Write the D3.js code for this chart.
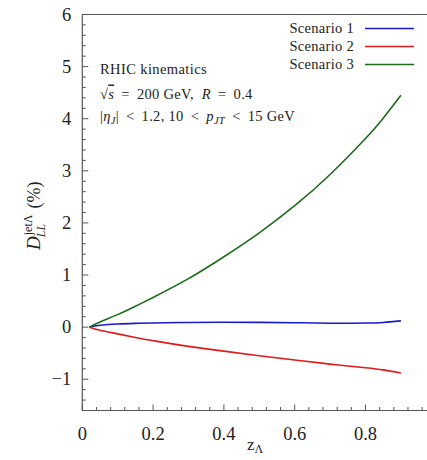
<!DOCTYPE html>
<html><head><meta charset="utf-8">
<script src="https://cdn.jsdelivr.net/npm/d3@7"></script>
<style>body{margin:0;background:#fff;} text{white-space:pre;}</style>
</head><body>
<svg id="c" width="427" height="460" font-family="'Liberation Serif', 'Times New Roman', 'DejaVu Serif', serif"></svg>
<script>
const xs = [0.02, 0.05, 0.1, 0.15, 0.2, 0.3, 0.4, 0.5, 0.6, 0.7, 0.8, 0.85, 0.9];
const scenario1 = [0, 0.035, 0.06, 0.072, 0.08, 0.09, 0.095, 0.092, 0.085, 0.075, 0.078, 0.09, 0.12];
const scenario2 = [0, -0.06, -0.13, -0.2, -0.26, -0.37, -0.46, -0.55, -0.63, -0.71, -0.78, -0.82, -0.88];
const scenario3 = [0, 0.1, 0.24, 0.4, 0.57, 0.93, 1.35, 1.81, 2.33, 2.93, 3.62, 4.01, 4.45];
const seriesNames = ["Scenario 1", "Scenario 2", "Scenario 3"];
const colors = ["#1a1acc", "#e01a1a", "#1a6b1a"];
const xTicks = [0, 0.2, 0.4, 0.6, 0.8];
const yTicks = [-1, 0, 1, 2, 3, 4, 5, 6];

const svg = d3.select("#c");
const x = d3.scaleLinear().domain([0, 1]).range([82.3, 436.3]);
const y = d3.scaleLinear().domain([-1.6, 6]).range([410.5, 14.5]);
const axisColor = "#555";
const txt = "#222";

svg.append("line").attr("x1", x(0)).attr("x2", x(1)).attr("y1", y(6)).attr("y2", y(6)).attr("stroke", axisColor).attr("stroke-width", 1.2);
svg.append("line").attr("x1", x(0)).attr("x2", x(0)).attr("y1", y(6)).attr("y2", y(-1.6)).attr("stroke", axisColor).attr("stroke-width", 1.2);
svg.append("line").attr("x1", x(0)).attr("x2", x(1)).attr("y1", y(-1.6)).attr("y2", y(-1.6)).attr("stroke", axisColor).attr("stroke-width", 1.2);

const yMinor = d3.range(-16, 61, 2).map(d => d / 10);
svg.append("g").selectAll("line").data(yMinor).join("line")
  .attr("x1", x(0)).attr("x2", d => x(0) + (Math.abs(d - Math.round(d)) < 1e-6 ? 6 : 3.5))
  .attr("y1", d => y(d)).attr("y2", d => y(d)).attr("stroke", axisColor).attr("stroke-width", 1);
svg.append("g").selectAll("text").data(yTicks).join("text")
  .attr("x", x(0) - 11).attr("y", d => y(d) + 6).attr("text-anchor", "end").attr("fill", txt)
  .attr("font-size", 18.5).text(d => d < 0 ? "\u2212" + Math.abs(d) : d);

const xMinor = d3.range(0, 26).map(d => d * 0.04);
svg.append("g").selectAll("line").data(xMinor).join("line")
  .attr("x1", d => x(d)).attr("x2", d => x(d))
  .attr("y1", y(-1.6)).attr("y2", (d, i) => y(-1.6) - (i % 5 === 0 ? 6 : 3.5))
  .attr("stroke", axisColor).attr("stroke-width", 1);
svg.append("g").selectAll("text").data(xTicks).join("text")
  .attr("x", d => x(d)).attr("y", 440).attr("text-anchor", "middle").attr("fill", txt)
  .attr("font-size", 18.5).text(d => d === 0 ? "0" : d.toFixed(1));

const allSeries = [scenario1, scenario2, scenario3];
const line = d3.line().x(d => x(d[0])).y(d => y(d[1])).curve(d3.curveNatural);
allSeries.forEach((s, i) => {
  svg.append("path").attr("d", line(xs.map((v, j) => [v, s[j]])))
    .attr("fill", "none").attr("stroke", colors[i]).attr("stroke-width", 1.6);
});

seriesNames.forEach((n, i) => {
  const yy = 28.5 + i * 18;
  svg.append("text").attr("x", 354).attr("y", yy + 4.5).attr("text-anchor", "end").attr("font-size", 14.5).attr("letter-spacing", 0.3).attr("fill", txt).text(n);
  svg.append("line").attr("x1", 365).attr("x2", 414).attr("y1", yy).attr("y2", yy).attr("stroke", colors[i]).attr("stroke-width", 1.6);
});

const fs = 14.5;
const sp = "\u2009";
svg.append("text").attr("x", 100).attr("y", 74).attr("font-size", fs).attr("letter-spacing", 0.4).attr("fill", txt).text("RHIC kinematics");
const t2 = svg.append("text").attr("x", 100).attr("y", 98.5).attr("font-size", fs).attr("letter-spacing", 0.3).attr("fill", txt);
t2.append("tspan").text("\u221A");
t2.append("tspan").attr("font-style", "italic").style("text-decoration", "overline").text("s");
t2.append("tspan").text(sp + " = " + sp + "200 GeV,  ");
t2.append("tspan").attr("font-style", "italic").text("R");
t2.append("tspan").text(sp + " = " + sp + "0.4");
const t3 = svg.append("text").attr("x", 100).attr("y", 121).attr("font-size", fs).attr("letter-spacing", 0.3).attr("fill", txt);
t3.append("tspan").text("|");
t3.append("tspan").attr("font-style", "italic").text("\u03B7");
t3.append("tspan").attr("font-style", "italic").attr("font-size", 10.5).attr("dy", 3).text("J");
t3.append("tspan").attr("dy", -3).text("|" + sp + " < " + sp + "1.2, 10" + sp + " < " + sp);
t3.append("tspan").attr("font-style", "italic").text("p");
t3.append("tspan").attr("font-style", "italic").attr("font-size", 10.5).attr("dy", 3).text("JT");
t3.append("tspan").attr("dy", -3).text(sp + " < " + sp + "15 GeV");

const xl = svg.append("text").attr("x", 255).attr("y", 450).attr("text-anchor", "middle").attr("font-size", 17).attr("fill", txt);
xl.append("tspan").text("z");
xl.append("tspan").attr("font-size", 12).attr("dy", 3).text("\u039B");

const g = svg.append("g").attr("transform", "translate(40,250) rotate(-90)");
const D = g.append("text").attr("x", 0).attr("y", 0).attr("font-size", 19).attr("font-style", "italic").attr("fill", txt).text("D");
const dw = D.node().getComputedTextLength();
const sup = g.append("text").attr("x", dw + 1).attr("y", -8).attr("font-size", 12).attr("fill", txt).text("jet\u039B");
g.append("text").attr("x", dw - 1).attr("y", 5).attr("font-size", 12).attr("font-style", "italic").attr("fill", txt).text("LL");
const sw = sup.node().getComputedTextLength();
g.append("text").attr("x", dw + sw + 7).attr("y", 0).attr("font-size", 18).attr("fill", txt).text("(%)");
</script>
</body></html>
